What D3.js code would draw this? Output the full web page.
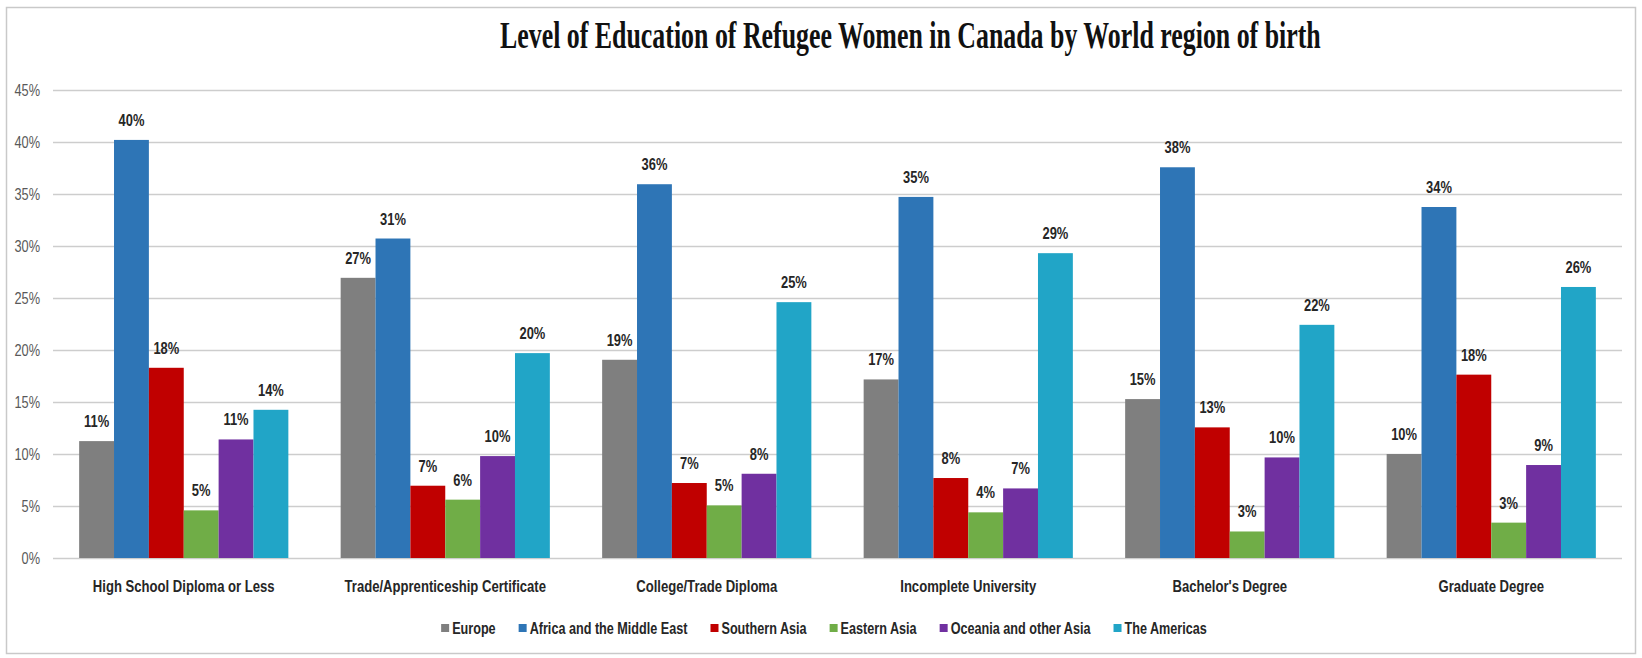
<!DOCTYPE html>
<html>
<head>
<meta charset="utf-8">
<script src="https://cdn.jsdelivr.net/npm/d3@7"></script>
<style>
  html, body { margin: 0; padding: 0; background: #ffffff; }
  svg { display: block; }
</style>
</head>
<body>
<svg id="chart" width="1642" height="658"></svg>
<script>
// Education levels (x categories)
const categories = [
  "High School Diploma or Less",
  "Trade/Apprenticeship Certificate",
  "College/Trade Diploma",
  "Incomplete University",
  "Bachelor's Degree",
  "Graduate Degree"
];

// World regions of birth (series)
const regions = [
  "Europe",
  "Africa and the Middle East",
  "Southern Asia",
  "Eastern Asia",
  "Oceania and other Asia",
  "The Americas"
];

// Share of refugee women, one value per education level
const europe     = [0.1124, 0.2694, 0.1906, 0.1717, 0.1528, 0.1000];
const africaME   = [0.4020, 0.3072, 0.3594, 0.3472, 0.3757, 0.3375];
const southAsia  = [0.1829, 0.0695, 0.0721, 0.0769, 0.1256, 0.1763];
const eastAsia   = [0.0458, 0.0561, 0.0506, 0.0439, 0.0255, 0.0340];
const oceaniaAs  = [0.1140, 0.0980, 0.0810, 0.0669, 0.0967, 0.0894];
const americas   = [0.1425, 0.1970, 0.2460, 0.2931, 0.2242, 0.2606];

const seriesValues = [europe, africaME, southAsia, eastAsia, oceaniaAs, americas];
const seriesColors = ["#7f7f7f", "#2e75b6", "#c00000", "#70ad47", "#7030a0", "#21a5c7"];

const yTicks = [0, 0.05, 0.10, 0.15, 0.20, 0.25, 0.30, 0.35, 0.40, 0.45];

const titleText = "Level of Education of Refugee Women in Canada by World region of birth";

const SANS = "'Liberation Sans', Arial, sans-serif";

// Squeeze text horizontally around its own anchor x
function squeeze(sel, factor) {
  sel.each(function() {
    const t = d3.select(this);
    const x = +(t.attr("x") || 0);
    t.attr("x", x / factor).attr("transform", `scale(${factor},1)`);
  });
}

const svg = d3.select("#chart");
const plot = { left: 53, right: 1622, top: 90, bottom: 558 };

// Outer frame
svg.append("rect")
  .attr("x", 6.5).attr("y", 7.5)
  .attr("width", 1629).attr("height", 646)
  .attr("fill", "#ffffff")
  .attr("stroke", "#c9c9c9")
  .attr("stroke-width", 1.5);

// Title, condensed serif
const title = svg.append("text")
  .attr("font-family", "'Liberation Serif', 'Times New Roman', serif")
  .attr("font-weight", "bold")
  .attr("font-size", 38)
  .attr("fill", "#111111")
  .text(titleText);
const titleLen = title.node().getComputedTextLength();
const titleScale = 821 / titleLen;
title.attr("transform", `translate(500,48) scale(${titleScale},1)`);

// Scales
const x0 = d3.scaleBand()
  .domain(categories)
  .range([plot.left, plot.right])
  .paddingInner(0.2)
  .paddingOuter(0.1);

const x1 = d3.scaleBand()
  .domain(regions)
  .range([0, x0.bandwidth()])
  .padding(0);

const y = d3.scaleLinear()
  .domain([0, 0.45])
  .range([plot.bottom, plot.top]);

const color = d3.scaleOrdinal().domain(regions).range(seriesColors);
const pct = d3.format(".0%");

// Y axis with gridlines
const yAxis = d3.axisLeft(y)
  .tickValues(yTicks)
  .tickFormat(pct)
  .tickSizeInner(-(plot.right - plot.left))
  .tickSizeOuter(0)
  .tickPadding(13);

const yg = svg.append("g")
  .attr("transform", `translate(${plot.left},0)`)
  .call(yAxis);
yg.select(".domain").remove();
yg.selectAll(".tick line")
  .attr("stroke", "#cdcdcd")
  .attr("stroke-width", 1.6);
yg.selectAll(".tick text")
  .attr("font-family", SANS)
  .attr("font-size", 16)
  .attr("fill", "#595959")
  .call(squeeze, 0.8);

// Bars
const rows = categories.map((c, i) => ({
  category: c,
  values: regions.map((r, j) => ({ region: r, value: seriesValues[j][i] }))
}));

const groups = svg.append("g")
  .selectAll("g")
  .data(rows)
  .join("g")
  .attr("transform", d => `translate(${x0(d.category)},0)`);

groups.selectAll("rect")
  .data(d => d.values)
  .join("rect")
  .attr("x", d => x1(d.region))
  .attr("y", d => y(d.value))
  .attr("width", x1.bandwidth())
  .attr("height", d => y(0) - y(d.value))
  .attr("fill", d => color(d.region));

// Value labels
groups.selectAll("text")
  .data(d => d.values)
  .join("text")
  .attr("x", d => x1(d.region) + x1.bandwidth() / 2)
  .attr("y", d => y(d.value) - 14)
  .attr("text-anchor", "middle")
  .attr("font-family", SANS)
  .attr("font-weight", "bold")
  .attr("font-size", 17)
  .attr("fill", "#262626")
  .text(d => pct(d.value))
  .call(squeeze, 0.76);

// X axis (category labels only)
const xAxis = d3.axisBottom(x0).tickSize(0).tickPadding(22);
const xg = svg.append("g")
  .attr("transform", `translate(0,${plot.bottom})`)
  .call(xAxis);
xg.select(".domain").remove();
xg.selectAll(".tick text")
  .attr("font-family", SANS)
  .attr("font-weight", "bold")
  .attr("font-size", 16.8)
  .attr("fill", "#262626")
  .call(squeeze, 0.78);

// Legend
const LEG = 0.78;
const legend = svg.append("g");
const items = legend.selectAll("g")
  .data(regions)
  .join("g");

items.append("rect")
  .attr("width", 8)
  .attr("height", 8)
  .attr("y", -10)
  .attr("fill", d => color(d));

items.append("text")
  .attr("x", 11)
  .attr("y", 0)
  .attr("font-family", SANS)
  .attr("font-weight", "bold")
  .attr("font-size", 16.2)
  .attr("fill", "#262626")
  .text(d => d)
  .call(squeeze, LEG);

let offset = 0;
const gap = 23;
items.each(function() {
  const g = d3.select(this);
  const w = 11 + g.select("text").node().getComputedTextLength() * LEG;
  g.attr("transform", `translate(${offset},0)`);
  offset += w + gap;
});
const legendWidth = offset - gap;
legend.attr("transform", `translate(${824 - legendWidth / 2},634)`);
</script>
</body>
</html>
